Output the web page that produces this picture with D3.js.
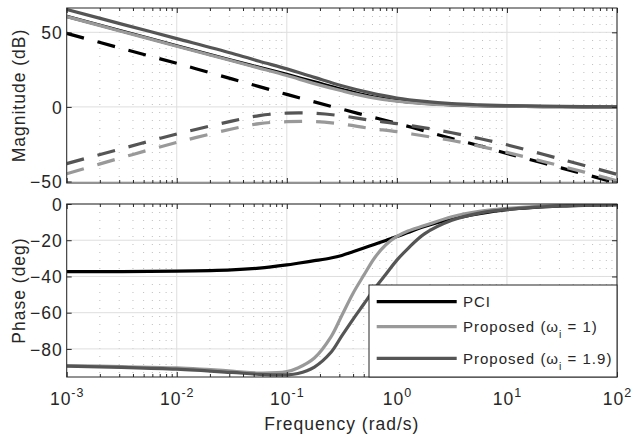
<!DOCTYPE html>
<html lang="en">
<head>
<meta charset="utf-8">
<title>Bode plot: PCI vs proposed</title>
<script src="https://d3js.org/d3.v7.min.js"></script>
<style>
  body { margin: 0; background: #fff; }
  text { font-family: "Liberation Sans", Arial, Helvetica, sans-serif; fill: #262626; letter-spacing: 1px; }
</style>
</head>
<body>
<script>

// frequencies (rad/s) the magnitude curves were read at
var magFreq = [0.001, 0.00316, 0.01, 0.0316, 0.0562, 0.1, 0.178, 0.316, 0.562, 1, 1.78, 3.16, 5.62, 10, 31.6, 100];
// solid magnitude curves (dB)
var magPCI    = [60.7, 50.9, 41.0, 31.3, 26.5, 21.8, 16.8, 11.8, 7.2, 4.2, 2.4, 1.4, 0.8, 0.5, 0.15, 0.05];
var magProp1  = [60.5, 50.6, 40.7, 30.9, 26.0, 21.0, 15.6, 10.8, 6.6, 3.8, 2.2, 1.3, 0.8, 0.5, 0.15, 0.05];
var magProp19 = [65.3, 55.5, 45.8, 36.0, 30.6, 25.5, 19.8, 14.2, 9.6, 6.0, 3.7, 2.2, 1.4, 0.9, 0.3, 0.1];
// dashed magnitude curves (dB)
var dashPCI    = [49.3, 39.2, 29.2, 18.8, 13.6, 8.4, 3.4, -1.5, -6.3, -11.0, -16.1, -21.2, -26.0, -31.2, -41.0, -51.0];
var dashProp1  = [-44.8, -34.0, -23.8, -14.8, -11.2, -9.9, -9.8, -11.5, -14.3, -16.6, -19.5, -22.5, -26.3, -30.5, -39.8, -49.5];
var dashProp19 = [-38.0, -28.0, -18.2, -9.5, -5.8, -4.2, -4.3, -6.0, -8.8, -11.2, -14.0, -17.3, -21.2, -25.4, -35.2, -45.2];

// frequencies (rad/s) the phase curves were read at
var phFreq = [0.001, 0.00316, 0.01, 0.0316, 0.0562, 0.1, 0.126, 0.178, 0.251, 0.316, 0.398, 0.501, 0.631, 0.794, 1, 1.26, 1.78, 3.16, 5.62, 10, 31.6, 100];
var phPCI    = [-37.3, -37.3, -37.1, -36.4, -35.4, -33.6, -32.7, -31.3, -29.8, -28.4, -26.4, -24.3, -22.2, -20.1, -18.0, -15.7, -12.4, -8.3, -5.3, -3.1, -1.1, -0.3];
var phProp1  = [-89.2, -89.8, -90.5, -92.2, -93.3, -92.5, -90.5, -85.0, -73.5, -61.5, -49.5, -39.3, -29.5, -22.5, -17.9, -14.9, -11.9, -7.0, -4.0, -2.4, -0.8, -0.2];
var phProp19 = [-89.5, -90.2, -91.2, -93.0, -94.0, -94.3, -93.6, -90.0, -82.0, -72.8, -63.8, -55.2, -46.5, -38.8, -31.0, -24.6, -16.5, -9.0, -5.0, -3.0, -1.0, -0.3];

// axes ticks
var xDecades = [0.001, 0.01, 0.1, 1, 10, 100];
var xExponents = ["-3", "-2", "-1", "0", "1", "2"];
var magTicks = [-50, 0, 50];
var phTicks = [-80, -60, -40, -20, 0];

var legendLabels = [["PCI"], ["Proposed (ω", "i", " = 1)"], ["Proposed (ω", "i", " = 1.9)"]];
var colours = ["#000000", "#999999", "#555555"];

var w = 633, h = 437;
var left = 66.7, right = 617;
var top1 = 8, bot1 = 183, top2 = 204, bot2 = 377;
var axisCol = "#262626";

var svg = d3.select("body").append("svg")
  .attr("width", w).attr("height", h);

var x = d3.scaleLog().domain([1e-3, 1e2]).range([left, right]);
var yMag = d3.scaleLinear().domain([-51, 66.3]).range([bot1, top1]);
var yPh = d3.scaleLinear().domain([-95.5, 0]).range([bot2, top2]);

// minor ticks 2..9 inside each decade
var xMinor = [];
xDecades.slice(0, -1).forEach(function(d) {
  for (var k = 2; k < 10; k++) xMinor.push(d * k);
});

function panel(y, yTicks, id) {
  var g = svg.append("g");
  var y0 = y.range()[0], y1 = y.range()[1];

  svg.append("clipPath").attr("id", id)
    .append("rect").attr("x", left).attr("y", y1)
    .attr("width", right - left).attr("height", y0 - y1);

  // minor grid (dotted)
  g.selectAll(".minor").data(xMinor).enter().append("line")
    .attr("x1", function(d) { return x(d); }).attr("x2", function(d) { return x(d); })
    .attr("y1", y1).attr("y2", y0)
    .attr("stroke", "#bdbdbd").attr("stroke-width", 1)
    .attr("stroke-dasharray", "1,7");

  // major grid
  g.selectAll(".gx").data(xDecades).enter().append("line")
    .attr("x1", function(d) { return x(d); }).attr("x2", function(d) { return x(d); })
    .attr("y1", y1).attr("y2", y0)
    .attr("stroke", "#dedede").attr("stroke-width", 1);
  g.selectAll(".gy").data(yTicks).enter().append("line")
    .attr("x1", left).attr("x2", right)
    .attr("y1", function(d) { return y(d); }).attr("y2", function(d) { return y(d); })
    .attr("stroke", "#dedede").attr("stroke-width", 1);

  return g;
}

function frame(y, yTicks, tickLabels) {
  var y0 = y.range()[0], y1 = y.range()[1];
  var g = svg.append("g");

  var ax = function(axis, tx, ty) {
    var a = g.append("g").attr("transform", "translate(" + tx + "," + ty + ")").call(axis);
    a.select(".domain").remove();
    a.selectAll("line").attr("stroke", axisCol);
    return a;
  };

  ax(d3.axisBottom(x).tickValues(xDecades).tickSize(-5).tickFormat(""), 0, y0);
  ax(d3.axisBottom(x).tickValues(xMinor).tickSize(-3).tickFormat(""), 0, y0);
  ax(d3.axisTop(x).tickValues(xDecades).tickSize(-5).tickFormat(""), 0, y1);
  ax(d3.axisTop(x).tickValues(xMinor).tickSize(-3).tickFormat(""), 0, y1);
  ax(d3.axisRight(y).tickValues(yTicks).tickSize(-5).tickFormat(""), right, 0);

  var ya = ax(d3.axisLeft(y).tickValues(yTicks).tickSize(-5).tickPadding(4).tickFormat(d3.format("d")), left, 0);
  ya.selectAll("text").attr("font-size", "17.5px").attr("fill", axisCol)
    .attr("font-family", "Liberation Sans, Arial, sans-serif").attr("dy", "0.35em");

  if (tickLabels) {
    var xa = ax(d3.axisBottom(x).tickValues(xDecades).tickSize(0).tickPadding(0).tickFormat(""), 0, y0);
    xa.selectAll(".tick").each(function(d, i) {
      var t = d3.select(this).append("text")
        .attr("y", 28).attr("text-anchor", "middle")
        .attr("font-size", "17.5px").attr("fill", axisCol);
      t.append("tspan").text("10");
      t.append("tspan").attr("dy", -8).attr("font-size", "12.5px").text(xExponents[i]);
    });
  }

  g.append("rect").attr("x", left).attr("y", y1)
    .attr("width", right - left).attr("height", y0 - y1)
    .attr("fill", "none").attr("stroke", axisCol).attr("stroke-width", 1);
}

var g1 = panel(yMag, magTicks, "clipMag");
var g2 = panel(yPh, phTicks, "clipPh");

function series(g, clip, y, freq, vals, col, dashed) {
  var line = d3.line()
    .x(function(d) { return x(d[0]); })
    .y(function(d) { return y(d[1]); })
    .curve(d3.curveCatmullRom.alpha(0.5));
  g.append("path")
    .datum(d3.zip(freq, vals))
    .attr("clip-path", "url(#" + clip + ")")
    .attr("d", line)
    .attr("fill", "none")
    .attr("stroke", col)
    .attr("stroke-width", 3.2)
    .attr("stroke-dasharray", dashed ? "18,14" : null);
}

var magSolid = [magPCI, magProp1, magProp19];
var magDash = [dashPCI, dashProp1, dashProp19];
var phase = [phPCI, phProp1, phProp19];
for (var i = 0; i < 3; i++) {
  series(g1, "clipMag", yMag, magFreq, magDash[i], colours[i], true);
  series(g1, "clipMag", yMag, magFreq, magSolid[i], colours[i], false);
  series(g2, "clipPh", yPh, phFreq, phase[i], colours[i], false);
}

frame(yMag, magTicks, false);
frame(yPh, phTicks, true);

// axis labels
svg.append("text")
  .attr("transform", "translate(25," + (top1 + bot1) / 2 + ") rotate(-90)")
  .attr("text-anchor", "middle").attr("font-size", "17.5px")
  .text("Magnitude (dB)");
svg.append("text")
  .attr("transform", "translate(25," + (top2 + bot2) / 2 + ") rotate(-90)")
  .attr("text-anchor", "middle").attr("font-size", "17.5px")
  .text("Phase (deg)");
svg.append("text")
  .attr("x", (left + right) / 2).attr("y", 430)
  .attr("text-anchor", "middle").attr("font-size", "17.5px")
  .text("Frequency (rad/s)");

// legend
var lg = svg.append("g");
lg.append("rect")
  .attr("x", 369).attr("y", 285).attr("width", right - 369).attr("height", bot2 - 285)
  .attr("fill", "#fff").attr("stroke", axisCol).attr("stroke-width", 1);
var rowY = [301.7, 326.7, 358.3];
legendLabels.forEach(function(lab, i) {
  lg.append("line")
    .attr("x1", 376.7).attr("x2", 456.7)
    .attr("y1", rowY[i]).attr("y2", rowY[i])
    .attr("stroke", colours[i]).attr("stroke-width", 3.2);
  var t = lg.append("text")
    .attr("x", 463).attr("y", rowY[i] + 5.5)
    .attr("font-size", "15px").attr("fill", "#000");
  t.append("tspan").text(lab[0]);
  if (lab.length > 1) {
    t.append("tspan").attr("dy", 6).attr("font-size", "10.5px").text(lab[1]);
    t.append("tspan").attr("dy", -6).text(lab[2]);
  }
});

</script>
</body>
</html>
